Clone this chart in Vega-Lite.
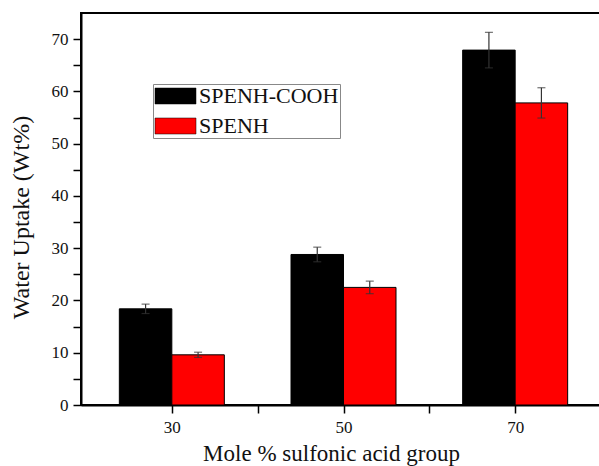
{
  "$schema": "https://vega.github.io/schema/vega-lite/v6.json",
  "autosize": "none",
  "padding": {"left": 81, "top": 13, "right": 0, "bottom": 61},
  "width": 525,
  "height": 392,
  "background": "white",
  "config": {
    "font": "Liberation Serif",
    "view": {"stroke": "black", "strokeWidth": 2},
    "axis": {
      "domainColor": "black",
      "domainWidth": 2,
      "tickColor": "black",
      "tickWidth": 1.5,
      "tickSize": 8,
      "labelFont": "Liberation Serif",
      "labelFontSize": 17,
      "labelColor": "#111",
      "titleFont": "Liberation Serif",
      "titleFontWeight": "normal",
      "titleColor": "#111",
      "grid": false
    },
    "legend": {
      "orient": "none",
      "legendX": 72,
      "legendY": 71,
      "labelFont": "Liberation Serif",
      "labelFontSize": 22,
      "labelColor": "#111",
      "strokeColor": "#888",
      "fillColor": "white",
      "padding": 1,
      "rowPadding": 8,
      "labelOffset": 23,
      "symbolType": "M-1,-0.8L3.1,-0.8L3.1,0.8L-1,0.8Z",
      "symbolSize": 400,
      "symbolStrokeColor": "black",
      "symbolStrokeWidth": 0.5,
      "symbolOpacity": 1
    }
  },
  "data": {
    "values": [
      {"mole": 30, "series": "SPENH-COOH", "uptake": 18.4, "err": 0.9},
      {"mole": 30, "series": "SPENH", "uptake": 9.6, "err": 0.5},
      {"mole": 50, "series": "SPENH-COOH", "uptake": 28.8, "err": 1.4},
      {"mole": 50, "series": "SPENH", "uptake": 22.5, "err": 1.2},
      {"mole": 70, "series": "SPENH-COOH", "uptake": 67.9, "err": 3.4},
      {"mole": 70, "series": "SPENH", "uptake": 57.8, "err": 2.9}
    ]
  },
  "encoding": {
    "x": {
      "field": "mole",
      "type": "quantitative",
      "scale": {"domain": [20, 80], "nice": false, "zero": false},
      "axis": {
        "title": "Mole % sulfonic acid group",
        "titleFontSize": 23,
        "titleX": 250,
        "values": [30, 40, 50, 60, 70],
        "labelExpr": "datum.value % 20 == 10 ? datum.label : ''",
        "labelPadding": 6,
        "titlePadding": 7,
        "encode": {
          "ticks": {"update": {"y2": {"signal": "datum.value % 20 == 10 ? 8 : 4"}}}
        }
      }
    },
    "y": {
      "field": "uptake",
      "type": "quantitative",
      "scale": {"domain": [0, 75], "nice": false},
      "axis": {
        "title": "Water Uptake (Wt%)",
        "titleFontSize": 24,
        "titleY": 204,
        "values": [0, 5, 10, 15, 20, 25, 30, 35, 40, 45, 50, 55, 60, 65, 70],
        "labelExpr": "datum.value % 10 == 0 ? datum.label : ''",
        "labelPadding": 5,
        "titlePadding": 18,
        "encode": {
          "ticks": {"update": {"x2": {"signal": "datum.value % 10 == 0 ? -8 : -4"}}}
        }
      }
    }
  },
  "layer": [
    {
      "transform": [{"filter": "datum.series == 'SPENH-COOH'"}],
      "mark": {"type": "bar", "orient": "vertical", "width": 52.5, "xOffset": -26.25, "stroke": "black", "strokeWidth": 1},
      "encoding": {
        "color": {
          "field": "series",
          "type": "nominal",
          "scale": {"domain": ["SPENH-COOH", "SPENH"], "range": ["#000000", "#ff0000"]},
          "legend": {"title": null}
        }
      }
    },
    {
      "transform": [{"filter": "datum.series == 'SPENH'"}],
      "mark": {"type": "bar", "orient": "vertical", "width": 52.5, "xOffset": 26.25, "stroke": "black", "strokeWidth": 1},
      "encoding": {
        "color": {"field": "series", "type": "nominal"}
      }
    },
    {
      "transform": [{"filter": "datum.series == 'SPENH-COOH'"}],
      "mark": {"type": "errorbar", "color": "#333", "rule": {"xOffset": -26.25, "strokeWidth": 1.2}, "ticks": {"xOffset": -26.25, "size": 8, "thickness": 1.2}},
      "encoding": {
        "yError": {"field": "err"}
      }
    },
    {
      "transform": [{"filter": "datum.series == 'SPENH'"}],
      "mark": {"type": "errorbar", "color": "#333", "rule": {"xOffset": 26.25, "strokeWidth": 1.2}, "ticks": {"xOffset": 26.25, "size": 8, "thickness": 1.2}},
      "encoding": {
        "yError": {"field": "err"}
      }
    }
  ]
}
